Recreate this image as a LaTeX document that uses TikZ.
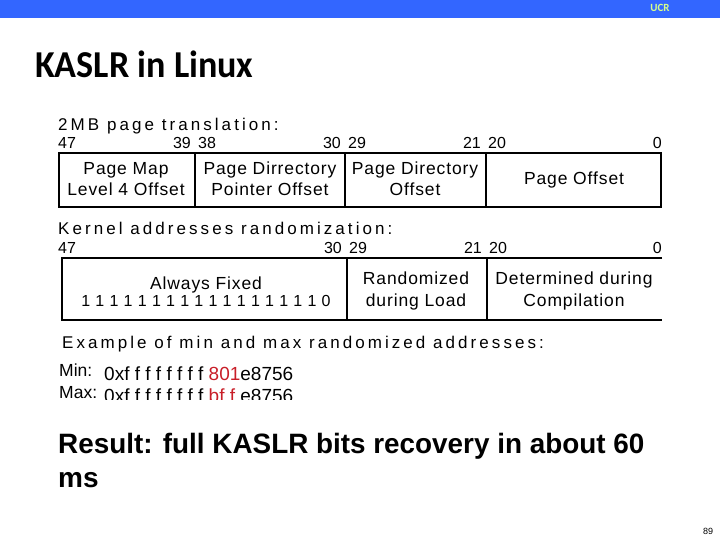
\documentclass[tikz,border=0pt]{standalone}
\usepackage{fontspec}
\setmainfont{Liberation Sans}
\newfontfamily\hdrfont[LetterSpace=18]{Liberation Sans}
\newfontfamily\cellfont[LetterSpace=5]{Liberation Sans}
\newfontfamily\titlefont{Carlito}
\definecolor{barblue}{RGB}{51,102,255}
\definecolor{ucrgreen}{RGB}{214,255,140}
\definecolor{hexred}{RGB}{200,30,40}
\tikzset{
  hdr/.style={anchor=base west, inner sep=0, font=\hdrfont\fontsize{17}{20}\selectfont},
  numl/.style={anchor=base west, inner sep=0, font=\fontsize{16}{18}\selectfont},
  numr/.style={anchor=base east, inner sep=0, font=\fontsize{16}{18}\selectfont},
  cell/.style={anchor=base, inner sep=0, font=\cellfont\fontsize{17.5}{20}\selectfont},
  frame/.style={line width=1.8pt},
  hexf/.style={anchor=base west, inner sep=0, font=\fontsize{19}{20}\selectfont},
  labf/.style={anchor=base west, inner sep=0, font=\fontsize{17.5}{20}\selectfont},
}
\begin{document}
\begin{tikzpicture}[x=1pt,y=-1pt]
\useasboundingbox (0,0) rectangle (720,540);
% top bar
\fill[barblue] (0,0) rectangle (720,18);
\node[anchor=base, inner sep=0, font=\titlefont\bfseries\fontsize{11}{12}\selectfont, text=ucrgreen] (ucr) at (660,12) {UCR};
% title
\node[anchor=base west, inner sep=0, font=\titlefont\bfseries\fontsize{38}{40}\selectfont, xscale=0.95] (title) at (35,78) {KASLR in Linux};

% ---------- 2MB page translation ----------
\node[hdr] (h1) at (58,131) {2MB page translation:};
\node[numl] (n47a) at (58,149) {47};
\node[numr] (n39) at (191,149) {39};
\node[numl] (n38) at (198,149) {38};
\node[numr] (n30a) at (341,149) {30};
\node[numl] (n29a) at (348,149) {29};
\node[numr] (n21a) at (481,149) {21};
\node[numl] (n20a) at (488,149) {20};
\node[numr] (n0a) at (662,149) {0};

\draw[frame] (59,153) rectangle (661,207);
\draw[frame] (195,153) -- (195,207);
\draw[frame] (345,153) -- (345,207);
\draw[frame] (486,153) -- (486,207);

\node[cell] (c1a) at (126,175) {Page Map};
\node[cell] (c1b) at (126,196) {Level 4 Offset};
\node[cell] (c2a) at (270,175) {Page Dirrectory};
\node[cell] (c2b) at (270,196) {Pointer Offset};
\node[cell] (c3a) at (415,175) {Page Directory};
\node[cell] (c3b) at (415,196) {Offset};
\node[cell] (c4) at (574,185) {Page Offset};

% ---------- Kernel addresses randomization ----------
\node[hdr] (h2) at (58,234) {Kernel addresses randomization:};
\node[numl] (n47b) at (58,254) {47};
\node[numr] (n30b) at (342,254) {30};
\node[numl] (n29b) at (349,254) {29};
\node[numr] (n21b) at (482,254) {21};
\node[numl] (n20b) at (489,254) {20};
\node[numr] (n0b) at (662,254) {0};

\draw[frame] (662,258) -- (62,258) -- (62,320) -- (662,320);
\draw[frame] (347,258) -- (347,320);
\draw[frame] (487,258) -- (487,320);

\node[cell] (k1a) at (206,289) {Always Fixed};
\node[cell, font=\cellfont\fontsize{16}{18}\selectfont] (k1b) at (206,306) {1 1 1 1 1 1 1 1 1 1 1 1 1 1 1 1 1 0};
\node[cell] (k2a) at (416,284) {Randomized};
\node[cell] (k2b) at (416,306) {during Load};
\node[cell] (k3a) at (574,284) {Determined during};
\node[cell] (k3b) at (574,306) {Compilation};

% ---------- Example ----------
\node[hdr] (h3) at (62,348) {Example of min and max randomized addresses:};
\node[labf] (minl) at (59,376) {Min:};
\node[hexf] (minv) at (104,380) {0xf f f f f f f f \textcolor{hexred}{801}e8756};
\begin{scope}
\clip (0,382) rectangle (720,399);
\node[labf] (maxl) at (59,398) {Max:};
\node[hexf] (maxv) at (104,402) {0xf f f f f f f f \textcolor{hexred}{bf f} e8756};
\end{scope}

% ---------- Result ----------
\node[anchor=base west, inner sep=0, font=\bfseries\fontsize{28}{34}\selectfont, xscale=0.995] (res1) at (58,453) {Result: full KASLR bits recovery in about 60};
\node[anchor=base west, inner sep=0, font=\bfseries\fontsize{28}{34}\selectfont] (res2) at (58,487) {ms};

\node[anchor=base, inner sep=0, font=\fontsize{9}{10}\selectfont] (pg) at (708,534) {89};
\end{tikzpicture}
\end{document}
